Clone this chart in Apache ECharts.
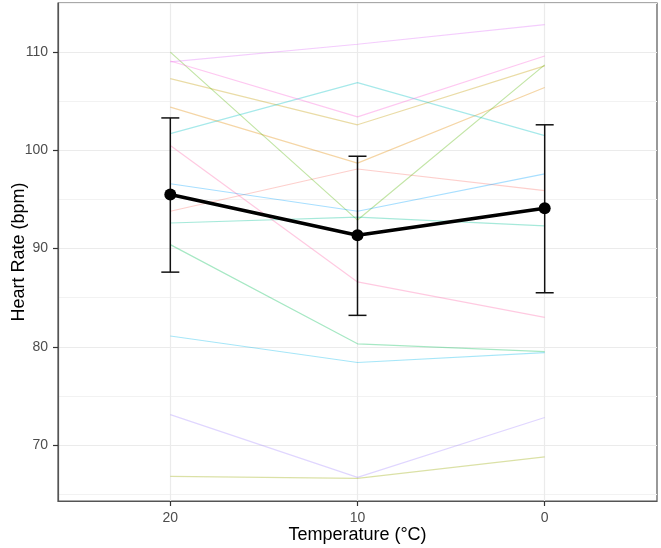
<!DOCTYPE html>
<html>
<head>
<meta charset="utf-8">
<script src="https://cdn.jsdelivr.net/npm/echarts@6/dist/echarts.min.js"></script>
<style>
  html, body { margin: 0; padding: 0; background: #fff; }
  #chart { width: 661px; height: 548px; }
</style>
</head>
<body>
<div id="chart"></div>
<script>
  // x positions (temperature, °C), drawn 20 -> 10 -> 0
  const temps = [20, 10, 0];
  const tempTicks = [0, 10, 20];
  const hrTicks = [70, 80, 90, 100, 110];
  const hrMinorTicks = [65, 75, 85, 95, 105, 115];

  // each subject: heart rate at 20, 10, 0 °C
  const subjectNames = ['S1', 'S2', 'S3', 'S4', 'S5', 'S6', 'S7', 'S8', 'S9', 'S10', 'S11', 'S12', 'S13', 'S14'];
  const subjectHR = [
    [93.8, 98.1, 95.9],
    [104.4, 98.7, 106.4],
    [107.3, 102.6, 108.6],
    [66.8, 66.6, 68.8],
    [110.0, 92.9, 108.7],
    [90.4, 80.3, 79.5],
    [92.6, 93.2, 92.3],
    [101.7, 106.9, 101.5],
    [81.1, 78.4, 79.4],
    [96.6, 93.8, 97.6],
    [73.1, 66.7, 72.8],
    [109.0, 110.8, 112.8],
    [109.1, 103.4, 109.6],
    [100.5, 86.6, 83.0]
  ];
  const subjectColors = ['#F8766D', '#E38900', '#C49A00', '#99A800', '#53B400', '#00BC56', '#00C094',
                         '#00BFC4', '#00B6EB', '#06A4FF', '#A58AFF', '#DF70F8', '#FB61D7', '#FF66A8'];

  // group mean and error bar ends
  const meanHR = [95.5, 91.35, 94.1];
  const errLow = [87.6, 83.2, 85.5];
  const errHigh = [103.3, 99.4, 102.6];

  const fontFamily = '"Liberation Sans", Arial, sans-serif';

  let series = [];
  subjectHR.forEach((vals, i) => {
    series.push({
      name: subjectNames[i],
      type: 'line',
      data: temps.map((t, j) => [t, vals[j]]),
      symbol: 'none',
      silent: true,
      z: 2,
      lineStyle: { color: subjectColors[i], width: 1.2, opacity: 0.35 }
    });
  });

  series.push({
    name: 'error',
    type: 'custom',
    z: 4,
    data: temps.map((t, j) => [t, errLow[j], errHigh[j]]),
    renderItem: function (params, api) {
      const top = api.coord([api.value(0), api.value(2)]);
      const bot = api.coord([api.value(0), api.value(1)]);
      const hw = 9;
      const st = { stroke: '#111', lineWidth: 1.5 };
      return {
        type: 'group',
        children: [
          { type: 'line', shape: { x1: top[0], y1: top[1], x2: bot[0], y2: bot[1] }, style: st },
          { type: 'line', shape: { x1: top[0] - hw, y1: top[1], x2: top[0] + hw, y2: top[1] }, style: st },
          { type: 'line', shape: { x1: bot[0] - hw, y1: bot[1], x2: bot[0] + hw, y2: bot[1] }, style: st }
        ]
      };
    }
  });

  series.push({
    name: 'mean',
    type: 'line',
    z: 5,
    data: temps.map((t, j) => [t, meanHR[j]]),
    symbol: 'circle',
    symbolSize: 12,
    itemStyle: { color: '#000' },
    lineStyle: { color: '#000', width: 3.5 }
  });

  const option = {
    animation: false,
    grid: {
      left: 58, right: 4, top: 3, bottom: 47,
      outerBoundsMode: 'none',
      show: true, borderColor: '#555', borderWidth: 1.2, backgroundColor: 'transparent'
    },
    xAxis: {
      type: 'value',
      inverse: true,
      min: -6,
      max: 26,
      name: 'Temperature (°C)',
      nameLocation: 'middle',
      nameGap: 25,
      nameMoveOverlap: false,
      nameTextStyle: { color: '#000', fontSize: 18, fontFamily: fontFamily },
      axisLine: { show: true, onZero: false, lineStyle: { color: '#555', width: 1.2 } },
      axisTick: { show: true, length: 5, customValues: tempTicks, lineStyle: { color: '#333', width: 1.2 } },
      axisLabel: { customValues: tempTicks, color: '#4D4D4D', fontSize: 14, margin: 10, fontFamily: fontFamily },
      splitLine: { show: true, lineStyle: { color: '#EBEBEB', width: 1.2 } }
    },
    yAxis: [{
      type: 'value',
      min: 64.3,
      max: 115,
      name: 'Heart Rate (bpm)',
      nameLocation: 'middle',
      nameRotate: 90,
      nameGap: 30,
      nameMoveOverlap: false,
      nameTextStyle: { color: '#000', fontSize: 18, fontFamily: fontFamily },
      axisLine: { show: true, onZero: false, lineStyle: { color: '#555', width: 1.2 } },
      axisTick: { show: true, length: 5, customValues: hrTicks, lineStyle: { color: '#333', width: 1.2 } },
      axisLabel: { customValues: hrTicks, color: '#4D4D4D', fontSize: 14, margin: 10, fontFamily: fontFamily },
      splitLine: { show: true, lineStyle: { color: '#EBEBEB', width: 1.2 } }
    }, {
      type: 'value',
      min: 64.3,
      max: 115,
      position: 'left',
      axisLine: { show: false, onZero: false },
      axisTick: { show: false, customValues: hrMinorTicks },
      axisLabel: { show: false },
      splitLine: { show: true, lineStyle: { color: '#F2F2F2', width: 1 } }
    }],
    series: series
  };

  let chart = echarts.init(document.getElementById('chart'));
  chart.setOption(option);
</script>
</body>
</html>
